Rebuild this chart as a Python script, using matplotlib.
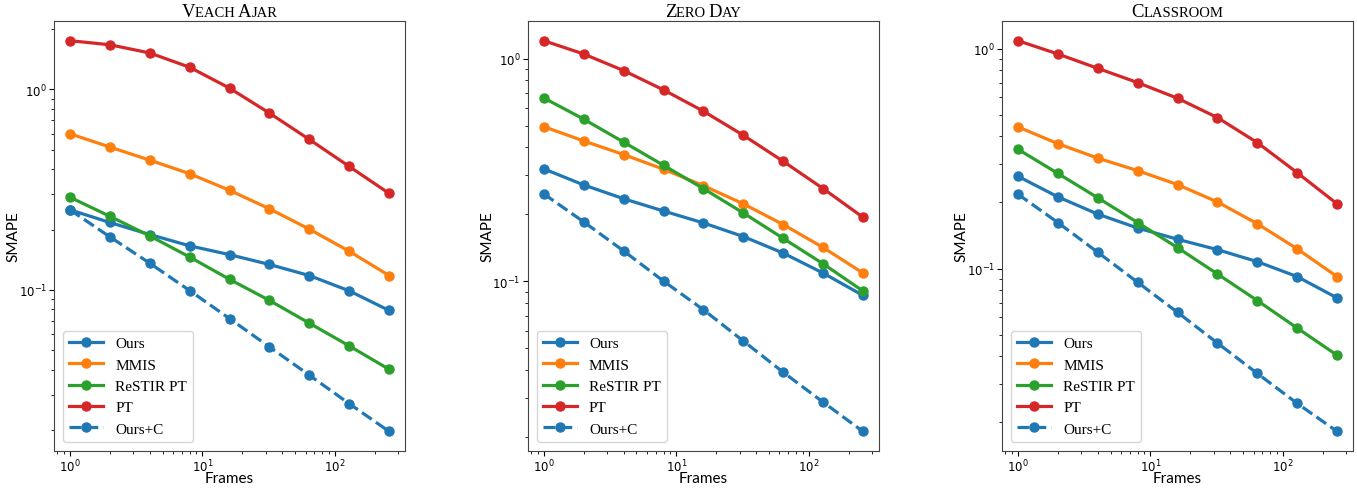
import matplotlib
matplotlib.use("Agg")
import matplotlib.pyplot as plt
import numpy as np

serif = "Liberation Serif"
sans = "Lato"

plt.rcParams['mathtext.fontset'] = 'custom'
plt.rcParams['mathtext.rm'] = sans
plt.rcParams['mathtext.it'] = sans + ':italic'
plt.rcParams['mathtext.bf'] = sans + ':bold'
plt.rcParams['xtick.labelsize'] = 8.5
plt.rcParams['ytick.labelsize'] = 8.5
plt.rcParams['axes.edgecolor'] = '#444444'

frames = [1, 2, 4, 8, 16, 32, 64, 128, 256]
methods = ["Ours", "MMIS", "ReSTIR PT", "PT", "Ours+C"]
colors = ["#1f77b4", "#ff7f0e", "#2ca02c", "#d62728", "#1f77b4"]
styles = ["-", "-", "-", "-", "--"]

# SMAPE per scene, one list per method
veach_ours = [0.251, 0.217, 0.189, 0.166, 0.150, 0.134, 0.118, 0.099, 0.079]
veach_mmis = [0.601, 0.516, 0.444, 0.380, 0.314, 0.254, 0.201, 0.156, 0.118]
veach_restir = [0.290, 0.233, 0.186, 0.146, 0.113, 0.0887, 0.0683, 0.0526, 0.0402]
veach_pt = [1.75, 1.67, 1.52, 1.29, 1.015, 0.762, 0.563, 0.413, 0.303]
veach_oursc = [0.251, 0.184, 0.136, 0.0993, 0.0720, 0.0520, 0.0376, 0.0271, 0.0197]

zero_ours = [0.320, 0.271, 0.235, 0.207, 0.183, 0.159, 0.134, 0.109, 0.0865]
zero_mmis = [0.495, 0.427, 0.371, 0.319, 0.269, 0.223, 0.180, 0.142, 0.109]
zero_restir = [0.666, 0.535, 0.422, 0.332, 0.261, 0.203, 0.156, 0.120, 0.0905]
zero_pt = [1.204, 1.049, 0.884, 0.724, 0.581, 0.453, 0.346, 0.261, 0.194]
zero_oursc = [0.247, 0.185, 0.137, 0.1003, 0.0746, 0.0540, 0.0391, 0.0287, 0.0212]

class_ours = [0.263, 0.212, 0.177, 0.153, 0.136, 0.122, 0.1076, 0.092, 0.0736]
class_mmis = [0.441, 0.370, 0.318, 0.279, 0.241, 0.201, 0.160, 0.123, 0.092]
class_restir = [0.349, 0.271, 0.210, 0.162, 0.1246, 0.0946, 0.0716, 0.0537, 0.0404]
class_pt = [1.087, 0.946, 0.814, 0.701, 0.595, 0.486, 0.374, 0.273, 0.197]
class_oursc = [0.218, 0.162, 0.1187, 0.0867, 0.0633, 0.0459, 0.0334, 0.0244, 0.0182]

scenes = [
    ("Veach Ajar", [veach_ours, veach_mmis, veach_restir, veach_pt, veach_oursc]),
    ("Zero Day", [zero_ours, zero_mmis, zero_restir, zero_pt, zero_oursc]),
    ("Classroom", [class_ours, class_mmis, class_restir, class_pt, class_oursc]),
]

fig = plt.figure(figsize=(13.57, 4.89), dpi=100)
lefts = [0.0398, 0.389, 0.7384]
axes = []
for left, (name, series) in zip(lefts, scenes):
    ax = fig.add_axes([left, 0.0757, 0.2587, 0.879])
    for label, vals, c, ls in zip(methods, series, colors, styles):
        ax.plot(frames, vals, ls, color=c, lw=2.3, marker="o", markersize=6.5, label=label)
    ax.set_xscale("log")
    ax.set_yscale("log")
    ax.tick_params(which="both", pad=1.5)
    ax.set_xlabel("Frames", fontsize=11, family=sans)
    ax.set_ylabel("SMAPE", fontsize=11, family=sans)
    ax.xaxis.set_label_coords(0.5, -0.047)
    ax.yaxis.set_label_coords(-0.095, 0.5)
    ax.legend(loc="lower left", prop={"family": serif, "size": 11},
              handlelength=2.2, borderaxespad=0.6)
    axes.append((ax, name))


def smallcaps_title(ax, text, big=13.5, small=10.5, pad=5):
    # fake small caps: full-size initials, smaller uppercase for the rest
    words = text.split()
    pieces = []
    for i, word in enumerate(words):
        pieces.append((word[0].upper(), big))
        rest = word[1:].upper()
        if i < len(words) - 1:
            rest += " "
        if rest:
            pieces.append((rest, small))
    renderer = fig.canvas.get_renderer()
    bbox = ax.get_window_extent(renderer)
    y = bbox.y1 + pad
    arts = []
    widths = []
    for s, size in pieces:
        t = fig.text(0, 0, s, fontsize=size, family=serif, va="baseline",
                     ha="left", transform=None)
        widths.append(t.get_window_extent(renderer).width)
        arts.append(t)
    x = (bbox.x0 + bbox.x1) / 2 - sum(widths) / 2
    for t, w in zip(arts, widths):
        t.set_position((x, y))
        x += w


fig.canvas.draw()
for ax, name in axes:
    smallcaps_title(ax, name)

fig.savefig("out.png", dpi=100)
